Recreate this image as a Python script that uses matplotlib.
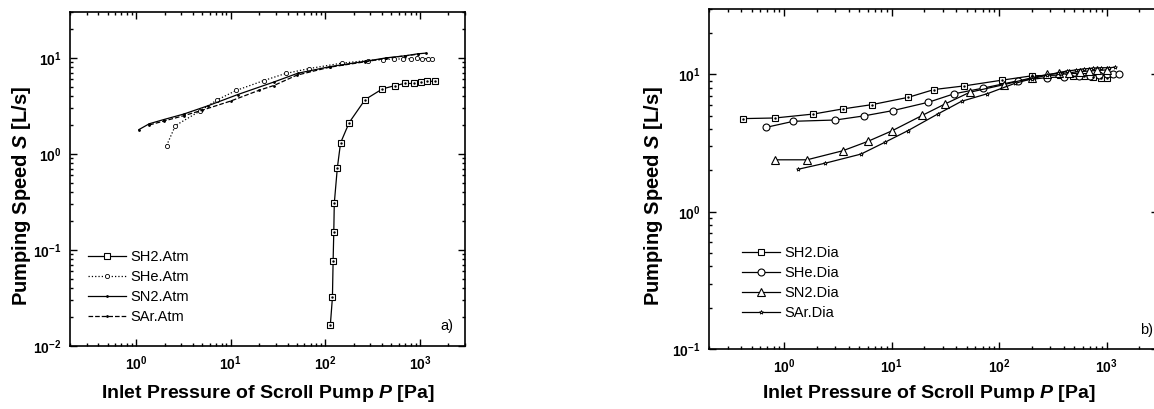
import matplotlib
matplotlib.use('Agg')
import matplotlib.pyplot as plt
from matplotlib.ticker import LogLocator, LogFormatterMathtext, NullFormatter

plt.rcParams['font.family'] = ['Liberation Sans', 'DejaVu Sans']
plt.rcParams['font.weight'] = 'bold'
plt.rcParams['mathtext.fontset'] = 'custom'
plt.rcParams['mathtext.rm'] = 'Liberation Sans:bold'
plt.rcParams['mathtext.bf'] = 'Liberation Sans:bold'
plt.rcParams['mathtext.it'] = 'Liberation Sans:bold:italic'
plt.rcParams['mathtext.default'] = 'bf'

# a) atmospheric exhaust
h2_atm_p = [113, 119, 121, 123, 124.5, 134, 145, 179, 264, 402, 550, 690, 865, 1035, 1185, 1440]
h2_atm_s = [0.0164, 0.032, 0.077, 0.154, 0.306, 0.71, 1.30, 2.12, 3.68, 4.75, 5.15, 5.41, 5.41, 5.66, 5.7, 5.7]
he_atm_p = [2.1, 2.6, 4.75, 7.2, 11.4, 22.4, 38, 68, 149, 281, 411, 532, 658, 798, 922, 1059, 1205, 1350]
he_atm_s = [1.22, 1.97, 2.8, 3.65, 4.57, 5.8, 6.87, 7.74, 8.8, 9.38, 9.6, 9.7, 9.75, 9.8, 9.85, 9.8, 9.8, 9.8]
n2_atm_p = [1.07, 1.38, 1.97, 3.2, 5.8, 11.9, 28.6, 50.9, 112, 265, 443, 700, 945, 1160]
n2_atm_s = [1.79, 2.06, 2.28, 2.6, 3.18, 4.15, 5.6, 6.9, 8.1, 9.2, 10.0, 10.5, 11.0, 11.2]
ar_atm_p = [1.38, 1.97, 3.2, 5.0, 10, 20, 28.6, 50, 112, 265, 443, 700, 945]
ar_atm_s = [2.0, 2.2, 2.5, 2.85, 3.55, 4.6, 5.15, 6.6, 8.0, 9.1, 9.9, 10.5, 10.9]

# b) diaphragm pump exhaust
h2_dia_p = [0.41, 0.82, 1.87, 3.5, 6.55, 14.3, 24.8, 47.5, 106, 201, 370, 485, 615, 750, 880, 1000]
h2_dia_s = [4.77, 4.82, 5.15, 5.61, 6.03, 6.82, 7.77, 8.26, 9.09, 9.78, 9.9, 9.8, 9.7, 9.6, 9.5, 9.35]
he_dia_p = [0.68, 1.22, 3.0, 5.5, 10.3, 22, 38, 70, 150, 280, 400, 550, 700, 850, 1000, 1150, 1300]
he_dia_s = [4.12, 4.56, 4.66, 4.99, 5.46, 6.28, 7.23, 7.94, 9.0, 9.5, 9.6, 9.7, 9.8, 9.9, 10.0, 10.1, 10.1]
n2_dia_p = [0.82, 1.63, 3.5, 5.97, 10.1, 19.2, 31.4, 53.5, 112, 200, 280, 360, 450, 560, 680, 820, 1000]
n2_dia_s = [2.39, 2.39, 2.78, 3.25, 3.89, 5.03, 6.1, 7.43, 8.45, 9.46, 10.0, 10.2, 10.3, 10.5, 10.6, 10.7, 10.8]
ar_dia_p = [1.35, 2.42, 5.18, 8.6, 14.1, 26.8, 44.7, 77, 139, 200, 280, 350, 430, 520, 620, 740, 880, 1050, 1200]
ar_dia_s = [2.04, 2.26, 2.63, 3.2, 3.89, 5.15, 6.38, 7.23, 8.6, 9.3, 9.9, 10.3, 10.6, 10.8, 11.0, 11.1, 11.2, 11.2, 11.3]

W, H = 1154, 409
fig = plt.figure(figsize=(W / 100, H / 100), dpi=100)
ax1 = fig.add_axes([70 / W, (H - 346) / H, (465 - 70) / W, (346 - 12) / H])
ax2 = fig.add_axes([709 / W, (H - 349) / H, (1158 - 709) / W, (349 - 9) / H])

legend_font = {'size': 10.5, 'weight': 'normal'}


def style_axes(ax, ylim):
    ax.set_xscale('log')
    ax.set_yscale('log')
    ax.set_xlim(0.2, 3000)
    ax.set_ylim(*ylim)
    for sp in ax.spines.values():
        sp.set_linewidth(1.2)
    ax.xaxis.set_major_locator(LogLocator(base=10, numticks=10))
    ax.xaxis.set_minor_locator(LogLocator(base=10, subs=range(2, 10), numticks=20))
    ax.yaxis.set_major_locator(LogLocator(base=10, numticks=10))
    ax.yaxis.set_minor_locator(LogLocator(base=10, subs=range(2, 10), numticks=20))
    ax.xaxis.set_major_formatter(LogFormatterMathtext())
    ax.yaxis.set_major_formatter(LogFormatterMathtext())
    ax.xaxis.set_minor_formatter(NullFormatter())
    ax.yaxis.set_minor_formatter(NullFormatter())
    ax.tick_params(which='both', direction='in', top=True, right=True, labelsize=10, width=1)
    ax.tick_params(which='major', length=5, pad=6)
    ax.tick_params(which='minor', length=2.5)
    ax.set_xlabel(r'Inlet Pressure of Scroll Pump $\mathit{P}$ [Pa]', fontsize=14, fontweight='bold')
    ax.set_ylabel(r'Pumping Speed $\mathit{S}$ [L/s]', fontsize=14.5, fontweight='bold')


style_axes(ax1, (0.01, 30))
ax1.plot(h2_atm_p, h2_atm_s, '-', color='black', lw=0.9, marker='s', ms=5,
         mfc='white', mec='black', mew=0.8, label='SH2.Atm')
ax1.plot(he_atm_p, he_atm_s, ':', color='black', lw=0.9, marker='o', ms=3,
         mfc='white', mec='black', mew=0.6, label='SHe.Atm')
ax1.plot(n2_atm_p, n2_atm_s, '-', color='black', lw=0.9, marker='.', ms=2, label='SN2.Atm')
ax1.plot(ar_atm_p, ar_atm_s, '--', color='black', lw=0.9, marker='.', ms=2, label='SAr.Atm')
ax1.plot(h2_atm_p, h2_atm_s, ls='none', marker='.', ms=1.5, color='black')
ax1.legend(loc='upper left', bbox_to_anchor=(0.046, 0.286), frameon=False, prop=legend_font,
           handlelength=2.6, handletextpad=0.3, borderpad=0, borderaxespad=0, labelspacing=0.4)
ax1.text(0.955, 0.04, 'a)', transform=ax1.transAxes, fontsize=10.5, fontweight='normal',
         ha='center', va='bottom')
ax1.xaxis.set_label_coords(0.5, -0.11)
ax1.yaxis.set_label_coords(-0.094, 0.45)

style_axes(ax2, (0.1, 30))
ax2.plot(h2_dia_p, h2_dia_s, '-', color='black', lw=0.9, marker='s', ms=4.5,
         mfc='white', mec='black', mew=0.8, label='SH2.Dia')
ax2.plot(he_dia_p, he_dia_s, '-', color='black', lw=0.9, marker='o', ms=5,
         mfc='white', mec='black', mew=0.8, label='SHe.Dia')
ax2.plot(n2_dia_p, n2_dia_s, '-', color='black', lw=0.9, marker='^', ms=5.5,
         mfc='white', mec='black', mew=0.8, label='SN2.Dia')
ax2.plot(ar_dia_p, ar_dia_s, '-', color='black', lw=0.9, marker='*', ms=3,
         mfc='white', mec='black', mew=0.6, label='SAr.Dia')
ax2.plot(h2_dia_p, h2_dia_s, ls='none', marker='.', ms=1.5, color='black')
ax2.legend(loc='upper left', bbox_to_anchor=(0.073, 0.302), frameon=False, prop=legend_font,
           handlelength=2.6, handletextpad=0.3, borderpad=0, borderaxespad=0, labelspacing=0.4)
ax2.text(0.975, 0.035, 'b)', transform=ax2.transAxes, fontsize=10.5, fontweight='normal',
         ha='center', va='bottom')
ax2.xaxis.set_label_coords(0.49, -0.1)
ax2.yaxis.set_label_coords(-0.098, 0.45)

fig.savefig('out.png', dpi=100)
